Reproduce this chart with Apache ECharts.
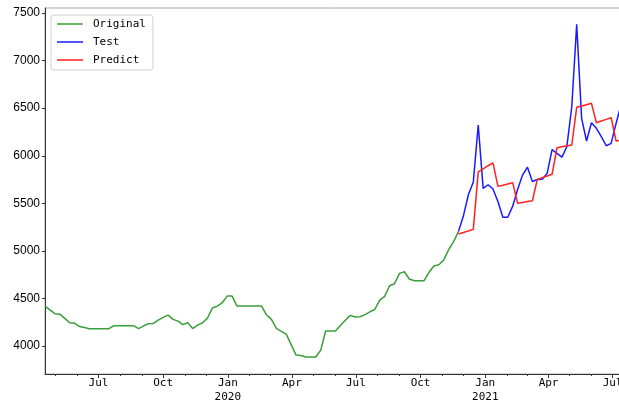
<!DOCTYPE html>
<html>
<head>
<meta charset="utf-8">
<title>Original / Test / Predict</title>
<script src="https://cdn.jsdelivr.net/npm/echarts@6/dist/echarts.min.js"></script>
<style>
    html, body { margin: 0; padding: 0; background: #fff; }
    #chart { width: 619px; height: 403px; }
</style>
</head>
<body>
<div id="chart"></div>
<script>
// weekly series, first week
var startDate = '2019-04-16';

// 原始数据 (weeks 0..84)
var original = [
    4420, 4380, 4340, 4335, 4290, 4245, 4240, 4205, 4195, 4182,
    4182, 4182, 4182, 4182, 4214, 4214, 4214, 4214, 4214, 4182,
    4210, 4235, 4238, 4273, 4301, 4325, 4280, 4262, 4225, 4245,
    4184, 4220, 4245, 4293, 4399, 4420, 4455, 4525, 4525, 4420,
    4420, 4420, 4420, 4420, 4420, 4326, 4280, 4186, 4155, 4125,
    4015, 3905, 3900, 3884, 3884, 3884, 3955, 4158, 4158, 4158,
    4215, 4270, 4322, 4305, 4308, 4330, 4360, 4385, 4483, 4522,
    4633, 4655, 4764, 4781, 4705, 4687, 4687, 4687, 4775, 4841,
    4855, 4905, 5013, 5098, 5205
];

// 测试集 (weeks 84..117)
var test = [
    5205, 5370, 5590, 5725, 6323, 5657, 5695, 5650, 5520, 5353,
    5353, 5470, 5645, 5797, 5880, 5730, 5750, 5752, 5815, 6065,
    6025, 5985, 6095, 6515, 7381, 6393, 6155, 6347, 6288, 6200,
    6105, 6130, 6340, 6533
];

// 预测值 (weeks 84..117)
var predict = [
    5177, 5193, 5210, 5226, 5830, 5862, 5895, 5926, 5678, 5690,
    5704, 5717, 5500, 5509, 5518, 5527, 5752, 5770, 5788, 5805,
    6084, 6094, 6104, 6113, 6509, 6523, 6537, 6551, 6347, 6365,
    6382, 6400, 6155, 6165
];
var testStart = 84;

// 坐标轴刻度
var xTicks = ['2019-07-01', '2019-10-01', '2020-01-01', '2020-04-01', '2020-07-01',
              '2020-10-01', '2021-01-01', '2021-04-01', '2021-07-01'];
var yTicks = [4000, 4500, 5000, 5500, 6000, 6500, 7000, 7500];
var yMin = 3706, yMax = 7553;

var monthNames = ['Jan', 'Feb', 'Mar', 'Apr', 'May', 'Jun', 'Jul', 'Aug', 'Sep', 'Oct', 'Nov', 'Dec'];

window.onload = function () {
    draw_chart();
}

function toTime(s) {
    var p = s.split('-');
    return Date.UTC(+p[0], +p[1] - 1, +p[2]);
}

function draw_chart() {
    var myChart = echarts.init(document.getElementById('chart'), null, { renderer: 'canvas' });

    var week = 7 * 24 * 3600 * 1000;
    var t0 = toTime(startDate);
    var nWeeks = testStart + test.length;
    var tEnd = t0 + (nWeeks - 1) * week;

    var origData = [];
    for (var i = 0; i < original.length; i++) {
        origData.push([t0 + i * week, original[i]]);
    }
    var testData = [], predData = [];
    for (var k = 0; k < test.length; k++) {
        testData.push([t0 + (testStart + k) * week, test[k]]);
        predData.push([t0 + (testStart + k) * week, predict[k]]);
    }

    var majorTicks = xTicks.map(toTime);
    // 每月小刻度
    var minorTicks = [];
    var d = new Date(t0);
    var y = d.getUTCFullYear(), m = d.getUTCMonth() + 1;
    while (true) {
        var t = Date.UTC(y, m, 1);
        if (t > tEnd) break;
        minorTicks.push(t);
        m++;
    }

    var axisFont = 'DejaVu Sans Mono';

    option = {
        animation: false,
        backgroundColor: '#fff',
        grid: {
            left: 45,
            right: -2,
            top: 8,
            bottom: 29,
            outerBoundsMode: 'none',
            containLabel: false,
            show: true,
            borderColor: '#aaa',
            borderWidth: 1,
            backgroundColor: 'transparent'
        },
        legend: {
            orient: 'vertical',
            left: 51,
            top: 15,
            data: ['Original', 'Test', 'Predict'],
            icon: 'rect',
            itemWidth: 26,
            itemHeight: 1.5,
            itemGap: 4,
            padding: [2, 7, 3, 6],
            borderColor: '#d0d0d0',
            borderWidth: 1,
            borderRadius: 3,
            backgroundColor: 'rgba(255,255,255,0.8)',
            textStyle: {
                fontFamily: axisFont,
                fontSize: 11,
                lineHeight: 14,
                color: '#000',
                padding: [0, 0, 0, 5]
            }
        },
        xAxis: [
            {
                type: 'value',
                min: t0,
                max: tEnd,
                splitLine: { show: false },
                axisLine: { onZero: false, lineStyle: { color: '#333', width: 1 } },
                axisTick: {
                    customValues: majorTicks,
                    length: 4,
                    lineStyle: { color: '#333' }
                },
                axisLabel: {
                    customValues: majorTicks,
                    margin: 2,
                    fontFamily: axisFont,
                    fontSize: 11,
                    color: '#000',
                    lineHeight: 14,
                    formatter: function (v) {
                        var dt = new Date(v);
                        var mm = dt.getUTCMonth();
                        if (mm === 0) {
                            return monthNames[mm] + '\n' + dt.getUTCFullYear();
                        }
                        return monthNames[mm];
                    }
                }
            },
            {
                type: 'value',
                min: t0,
                max: tEnd,
                position: 'bottom',
                splitLine: { show: false },
                axisLine: { show: false },
                axisTick: {
                    customValues: minorTicks,
                    length: 2,
                    lineStyle: { color: '#333' }
                },
                axisLabel: { show: false }
            }
        ],
        yAxis: {
            type: 'value',
            min: yMin,
            max: yMax,
            splitLine: { show: false },
            axisLine: { show: true, lineStyle: { color: '#333', width: 1 } },
            axisTick: {
                show: true,
                customValues: yTicks,
                length: 3,
                lineStyle: { color: '#333' }
            },
            axisLabel: {
                customValues: yTicks,
                margin: 5,
                fontFamily: 'Liberation Sans',
                fontSize: 12,
                color: '#000',
                formatter: function (v) { return String(v); }
            }
        },
        series: [
            {
                name: 'Original',
                type: 'line',
                data: origData,
                symbol: 'none',
                color: '#3a9e3a',
                lineStyle: { width: 1.5 }
            },
            {
                name: 'Test',
                type: 'line',
                data: testData,
                symbol: 'none',
                color: '#1a1aff',
                lineStyle: { width: 1.5 }
            },
            {
                name: 'Predict',
                type: 'line',
                data: predData,
                symbol: 'none',
                color: '#ff2020',
                lineStyle: { width: 1.5 }
            }
        ]
    };
    myChart.setOption(option);
}
</script>
</body>
</html>
